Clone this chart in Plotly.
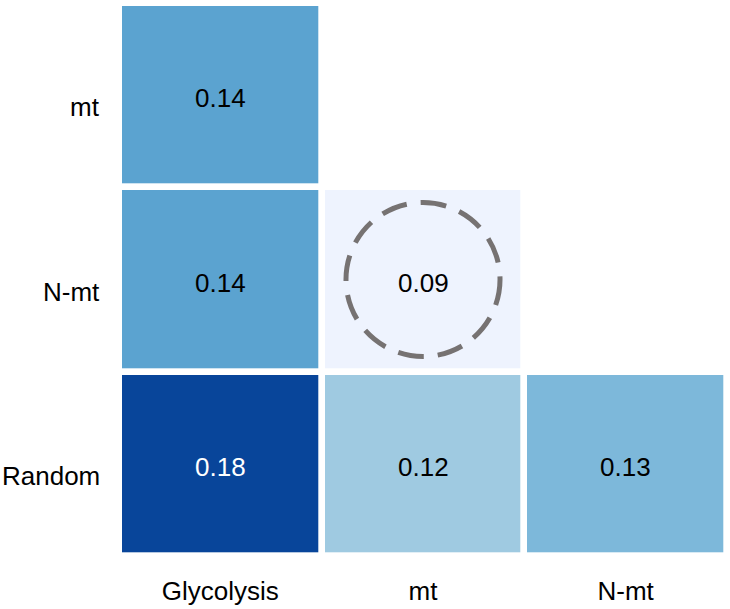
import plotly.graph_objects as go

x_cats = ["Glycolysis", "mt", "N-mt"]
y_cats = ["mt", "N-mt", "Random"]
row_mt = [0.14, None, None]
row_nmt = [0.14, 0.09, None]
row_random = [0.18, 0.12, 0.13]
z = [row_mt, row_nmt, row_random]

zmin, zmax = 0.09, 0.18
# colour stops (value -> colour)
stop_vals = [0.09, 0.12, 0.13, 0.14, 0.18]
stop_cols = ["#eef3fe", "#9fcae1", "#7db8da", "#5ba3d0", "#08459a"]
colorscale = [[(v - zmin) / (zmax - zmin), c] for v, c in zip(stop_vals, stop_cols)]

FONT = "Arial, Liberation Sans, sans-serif"
FS = 26

fig = go.Figure(go.Heatmap(
    x=x_cats, y=y_cats, z=z,
    zmin=zmin, zmax=zmax, colorscale=colorscale, showscale=False,
    xgap=6.7, ygap=6.7, hoverongaps=False,
))

for yi, row in zip(y_cats, z):
    for xi, v in zip(x_cats, row):
        if v is None:
            continue
        fig.add_annotation(x=xi, y=yi, text=f"{v:.2f}", showarrow=False, yshift=-3,
                           font=dict(family=FONT, size=FS,
                                     color="white" if v >= 0.17 else "black"))

# row labels (placed slightly below row centres, as in the reference)
for yi in y_cats:
    fig.add_annotation(x=0, xref="paper", y=yi, yref="y", text=yi, showarrow=False,
                       xanchor="right", xshift=-17, yshift=-12,
                       font=dict(family=FONT, size=FS, color="black"))

# dashed circle highlighting the mt / N-mt cell
cx = x_cats.index("mt")
cy = y_cats.index("N-mt")
rx, ry = 0.38, 0.418
fig.add_shape(type="circle", xref="x", yref="y",
              x0=cx - rx, x1=cx + rx, y0=cy - ry, y1=cy + ry,
              line=dict(color="#767272", width=5, dash="26px,14px"))

fig.update_layout(
    width=730, height=609,
    margin=dict(l=119, r=3, t=3, b=53),
    plot_bgcolor="white", paper_bgcolor="white",
    font=dict(family=FONT, size=FS, color="black"),
    showlegend=False,
)
fig.update_xaxes(showgrid=False, zeroline=False, showline=False, ticks="",
                 ticklabelstandoff=17, tickfont=dict(size=FS, color="black"))
fig.update_yaxes(showgrid=False, zeroline=False, showline=False, ticks="",
                 autorange="reversed", showticklabels=False)

fig.write_html("out.html")
